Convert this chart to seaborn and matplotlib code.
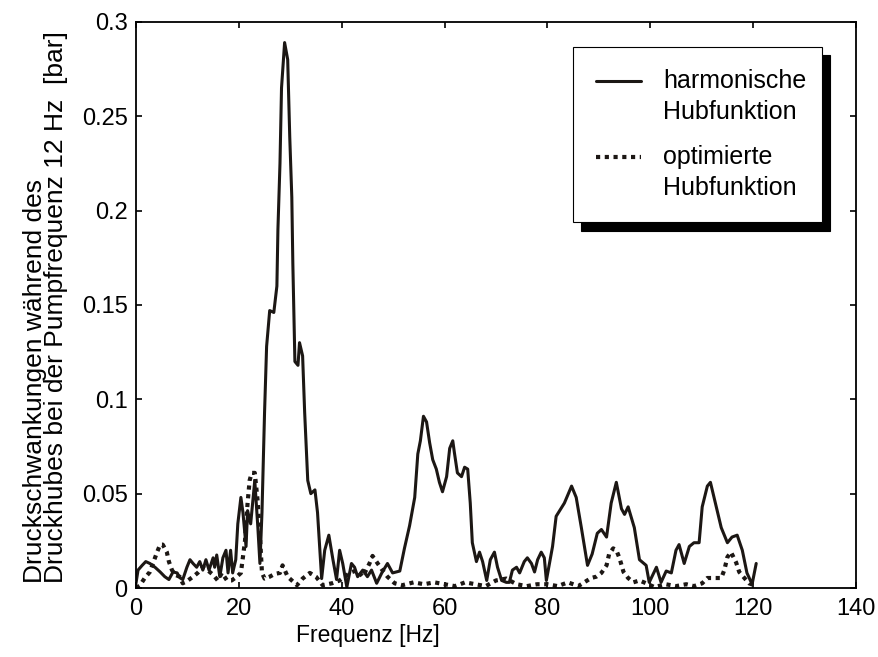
import numpy as np
import pandas as pd
import matplotlib
matplotlib.use("Agg")
import matplotlib.pyplot as plt
from matplotlib.ticker import FormatStrFormatter
from matplotlib.legend_handler import HandlerLine2D
import seaborn as sns

# Spectrum of pressure fluctuations, harmonic stroke function
freq_harm = [0.0, 0.4, 1.2, 1.9, 2.7, 3.7, 4.7, 5.6, 6.4, 7.2, 8.0, 8.5, 9.1, 9.9,
             10.5, 11.1, 11.8, 12.4, 13.0, 13.6, 14.2, 15.0, 15.3, 15.7, 16.3, 16.9,
             17.5, 17.9, 18.4, 18.8, 19.4, 19.8, 20.4, 20.8, 21.4, 21.7, 22.3, 23.1,
             23.7, 24.1, 24.5, 25.0, 25.4, 26.0, 26.8, 27.4, 27.6, 28.0, 28.3, 28.9,
             29.5, 29.9, 30.3, 30.5, 30.9, 31.5, 31.8, 32.4, 32.8, 33.4, 34.0, 34.8,
             35.3, 36.1, 36.7, 37.5, 38.3, 39.0, 39.6, 40.2, 41.0, 41.9, 42.5, 43.1,
             44.1, 45.0, 45.8, 46.8, 47.8, 48.9, 49.9, 51.3, 52.2, 53.2, 54.2, 54.8,
             55.3, 55.9, 56.5, 57.1, 57.7, 58.4, 59.0, 59.6, 60.4, 61.0, 61.6, 61.9,
             62.5, 63.3, 63.9, 64.5, 65.0, 65.4, 66.2, 66.8, 67.4, 68.2, 68.9, 69.7,
             70.3, 71.1, 72.0, 72.6, 73.2, 74.0, 74.6, 75.5, 76.1, 76.9, 77.5, 78.1,
             78.8, 79.4, 79.8, 81.0, 81.7, 83.3, 84.7, 85.6, 86.6, 87.8, 88.7, 89.7,
             90.5, 91.5, 92.4, 93.4, 94.4, 95.0, 95.7, 96.9, 97.9, 99.2, 99.8, 101.2,
             102.1, 103.1, 104.1, 105.0, 105.6, 106.6, 107.6, 108.5, 109.5, 110.1,
             111.1, 111.7, 112.4, 113.8, 115.0, 115.9, 116.9, 117.9, 118.8, 119.8,
             120.6]
amp_harm = [0.0025, 0.0095, 0.012, 0.014, 0.013, 0.011, 0.0085, 0.006, 0.0045, 0.0085,
            0.008, 0.0055, 0.0045, 0.011, 0.015, 0.013, 0.011, 0.014, 0.0095, 0.015,
            0.0095, 0.016, 0.011, 0.0175, 0.006, 0.016, 0.020, 0.008, 0.020, 0.008,
            0.015, 0.034, 0.048, 0.040, 0.022, 0.041, 0.034, 0.057, 0.032, 0.013,
            0.040, 0.093, 0.128, 0.147, 0.146, 0.160, 0.190, 0.225, 0.265, 0.289,
            0.280, 0.239, 0.207, 0.172, 0.120, 0.118, 0.130, 0.123, 0.093, 0.057,
            0.050, 0.052, 0.040, 0.005, 0.020, 0.028, 0.015, 0.0045, 0.020, 0.013,
            0.0005, 0.013, 0.011, 0.006, 0.0095, 0.006, 0.0095, 0.0025, 0.008, 0.013,
            0.008, 0.009, 0.021, 0.033, 0.048, 0.071, 0.078, 0.091, 0.088, 0.077,
            0.068, 0.063, 0.056, 0.051, 0.059, 0.074, 0.078, 0.072, 0.061, 0.059,
            0.064, 0.063, 0.045, 0.024, 0.014, 0.019, 0.014, 0.004, 0.015, 0.019,
            0.011, 0.004, 0.003, 0.003, 0.0095, 0.011, 0.008, 0.014, 0.016, 0.013,
            0.0085, 0.015, 0.019, 0.016, 0.004, 0.022, 0.038, 0.045, 0.054, 0.048,
            0.032, 0.012, 0.018, 0.029, 0.031, 0.027, 0.045, 0.056, 0.042, 0.039,
            0.043, 0.032, 0.015, 0.012, 0.003, 0.011, 0.003, 0.009, 0.008, 0.020,
            0.023, 0.013, 0.022, 0.024, 0.024, 0.043, 0.054, 0.056, 0.048, 0.032,
            0.024, 0.027, 0.028, 0.020, 0.008, 0.002, 0.013]

# Spectrum of pressure fluctuations, optimised stroke function
freq_opt = [0.0, 0.8, 1.7, 2.7, 3.3, 4.1, 4.7, 5.2, 6.0, 6.4, 7.0, 7.6, 8.5, 9.1,
            10.1, 11.1, 12.0, 13.0, 13.9, 15.0, 15.9, 16.7, 17.7, 18.6, 19.6, 20.4,
            21.2, 21.7, 22.1, 22.5, 23.1, 23.7, 24.1, 24.5, 25.0, 26.0, 27.0, 28.0,
            28.5, 29.5, 31.3, 32.4, 33.8, 35.0, 36.3, 38.1, 39.6, 41.6, 43.0, 44.1,
            45.4, 46.0, 47.0, 47.9, 48.9, 50.3, 51.8, 54.0, 56.0, 58.0, 60.0, 62.0,
            64.0, 66.0, 68.0, 70.0, 72.0, 74.0, 76.0, 78.0, 80.0, 82.0, 84.0, 86.0,
            88.5, 89.5, 90.5, 91.5, 92.0, 92.8, 93.4, 94.0, 94.8, 95.7, 96.7, 97.9,
            99.2, 100.8, 103.0, 105.0, 107.0, 108.5, 110.1, 111.1, 112.4, 113.8,
            114.4, 115.0, 115.7, 116.7, 117.3, 118.3, 119.2, 120.2]
amp_opt = [0.0, 0.0015, 0.0053, 0.0085, 0.013, 0.019, 0.023, 0.023, 0.019, 0.014,
           0.0095, 0.007, 0.006, 0.0025, 0.004, 0.006, 0.008, 0.011, 0.0095, 0.007,
           0.004, 0.008, 0.004, 0.004, 0.006, 0.008, 0.025, 0.045, 0.057, 0.061,
           0.061, 0.045, 0.028, 0.008, 0.005, 0.006, 0.0075, 0.008, 0.012, 0.006,
           0.0015, 0.005, 0.008, 0.006, 0.0015, 0.0025, 0.004, 0.008, 0.0095, 0.006,
           0.013, 0.017, 0.013, 0.0095, 0.006, 0.0025, 0.0015, 0.003, 0.002, 0.003,
           0.002, 0.001, 0.003, 0.002, 0.001, 0.004, 0.005, 0.002, 0.001, 0.002,
           0.002, 0.001, 0.003, 0.001, 0.0053, 0.006, 0.008, 0.012, 0.018, 0.021,
           0.020, 0.016, 0.0085, 0.0053, 0.003, 0.004, 0.0025, 0.0005, 0.002, 0.001,
           0.002, 0.001, 0.0025, 0.0053, 0.0053, 0.0053, 0.0095, 0.0164, 0.019,
           0.0135, 0.0085, 0.0053, 0.0025, 0.0015]

label_harm = "harmonische\nHubfunktion"
label_opt = "optimierte\nHubfunktion"
x_ticks = [0, 20, 40, 60, 80, 100, 120, 140]
y_ticks = [0, 0.05, 0.1, 0.15, 0.2, 0.25, 0.3]

sns.set_theme(style="white")
plt.rcParams["font.family"] = ["Liberation Sans", "DejaVu Sans"]
plt.rcParams["text.color"] = "black"
plt.rcParams["axes.labelcolor"] = "black"

narrow = ["Liberation Sans Narrow", "Liberation Sans", "DejaVu Sans"]
ink = "#1c1714"

fig = plt.figure(figsize=(8.79, 6.57), dpi=100)
ax = fig.add_axes([0.1547, 0.105, 0.8191, 0.8618])

sns.lineplot(x=freq_harm, y=amp_harm, ax=ax, color=ink, lw=2.2,
             estimator=None, label=label_harm)
sns.lineplot(x=freq_opt, y=amp_opt, ax=ax, color=ink, lw=3.0,
             estimator=None, label=label_opt, linestyle=(0, (1, 1.1)))

ax.set_xlim(0, 140)
ax.set_ylim(0, 0.3)
ax.set_xticks(x_ticks)
ax.set_yticks(y_ticks)
ax.yaxis.set_major_formatter(FormatStrFormatter("%g"))

for s in ax.spines.values():
    s.set_visible(True)
    s.set_color("black")
    s.set_linewidth(1.3)

ax.tick_params(direction="in", length=4.5, width=1.2, top=True, right=True,
               bottom=True, left=True, labelsize=17, colors="black")
ax.tick_params(axis="x", pad=7)
ax.tick_params(axis="y", pad=6)
for t in ax.get_xticklabels() + ax.get_yticklabels():
    t.set_family(narrow)

ax.set_xlabel("Frequenz [Hz]", fontsize=16.5, family=narrow)
ax.xaxis.set_label_coords(0.322, -0.083)
ax.xaxis.label.set_va("center")

ax.set_ylabel("Druckschwankungen während des\nDruckhubes bei der Pumpfrequenz 12 Hz  [bar]",
              fontsize=19, loc="bottom", multialignment="left", linespacing=0.85)
ax.yaxis.set_label_coords(-0.094, 0.008)


class TopLineHandler(HandlerLine2D):
    """Place the handle level with the first line of a two-line label."""
    def create_artists(self, legend, orig_handle, xdescent, ydescent,
                       width, height, fontsize, trans):
        shift = 0.64 * fontsize
        return super().create_artists(legend, orig_handle, xdescent,
                                      ydescent - 2 * shift, width, height,
                                      fontsize, trans)


handles, labels = ax.get_legend_handles_labels()
leg = ax.legend(handles, labels, loc="upper left",
                bbox_to_anchor=(0.607, 0.956, 0.346, 0.0), mode="expand",
                borderaxespad=0, fontsize=18, frameon=True, fancybox=False,
                handlelength=1.8, handletextpad=0.9, labelspacing=0.82,
                borderpad=0.9,
                shadow={"ox": 6, "oy": -6, "color": "black", "alpha": 1.0},
                handler_map={h: TopLineHandler() for h in handles})
for t in leg.get_texts():
    t.set_linespacing(1.37)
leg.get_frame().set_edgecolor("black")
leg.get_frame().set_linewidth(0.8)
leg.get_frame().set_facecolor("white")

fig.savefig("out.png", dpi=100)
